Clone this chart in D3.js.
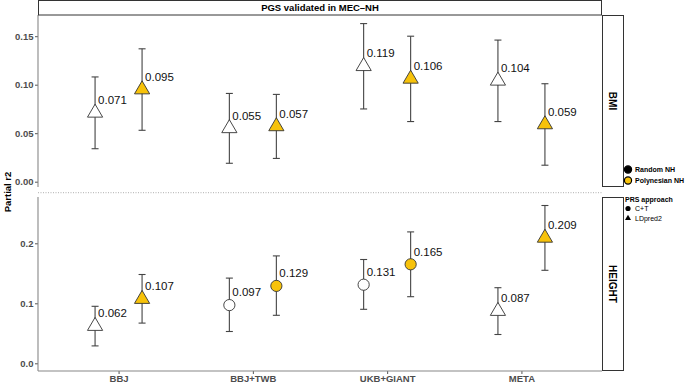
<!DOCTYPE html>
<html>
<head>
<meta charset="utf-8">
<script src="https://cdn.jsdelivr.net/npm/d3@7"></script>
<style>
  body { margin: 0; background: #fff; }
  text { font-family: "Liberation Sans", Arial, Helvetica, sans-serif; }
</style>
</head>
<body>
<div id="chart"></div>
<script>
// data
var cohorts = ["BBJ", "BBJ+TWB", "UKB+GIANT", "META"];
var groups = ["Random NH", "Polynesian NH"];
var methods = ["C+T", "LDpred2"];

var bmiMethod = ["LDpred2", "LDpred2", "LDpred2", "LDpred2"];
var bmiRandom = [0.071, 0.055, 0.119, 0.104];
var bmiRandomLo = [0.034, 0.019, 0.075, 0.062];
var bmiRandomHi = [0.108, 0.091, 0.163, 0.146];
var bmiPoly = [0.095, 0.057, 0.106, 0.059];
var bmiPolyLo = [0.053, 0.024, 0.062, 0.017];
var bmiPolyHi = [0.137, 0.090, 0.150, 0.101];

var heightMethod = ["LDpred2", "C+T", "C+T", "LDpred2"];
var heightRandom = [0.062, 0.097, 0.131, 0.087];
var heightRandomLo = [0.029, 0.053, 0.090, 0.048];
var heightRandomHi = [0.095, 0.142, 0.173, 0.126];
var heightPoly = [0.107, 0.129, 0.165, 0.209];
var heightPolyLo = [0.067, 0.080, 0.111, 0.155];
var heightPolyHi = [0.148, 0.179, 0.219, 0.263];

var bmiTicks = [0, 0.05, 0.10, 0.15];
var heightTicks = [0, 0.1, 0.2];

var W = 685, H = 382;
var left = 38, right = 602;
var colors = { "Random NH": "#ffffff", "Polynesian NH": "#f7c20a" };

var svg = d3.select("#chart").append("svg")
    .attr("width", W).attr("height", H);

var x = d3.scalePoint().domain(cohorts).range([left, right]).padding(0.6);
var dodge = d3.scalePoint().domain(groups).range([-23.5, 23.5]);

function rows(method, r, rlo, rhi, p, plo, phi) {
    var out = [];
    cohorts.forEach(function (c, i) {
        out.push({ cohort: c, group: groups[0], method: method[i], v: r[i], lo: rlo[i], hi: rhi[i] });
        out.push({ cohort: c, group: groups[1], method: method[i], v: p[i], lo: plo[i], hi: phi[i] });
    });
    return out;
}

var panels = [
    { name: "BMI", top: 15, bottom: 187, domain: [0, 0.15], range: [181.7, 36.2], ticks: bmiTicks, fmt: ".2f",
      data: rows(bmiMethod, bmiRandom, bmiRandomLo, bmiRandomHi, bmiPoly, bmiPolyLo, bmiPolyHi) },
    { name: "HEIGHT", top: 197, bottom: 371, domain: [0, 0.2], range: [363.3, 243.3], ticks: heightTicks, fmt: ".1f",
      data: rows(heightMethod, heightRandom, heightRandomLo, heightRandomHi, heightPoly, heightPolyLo, heightPolyHi) }
];

var tri = "M0,-8.7L7.6,4.3L-7.6,4.3Z";

panels.forEach(function (p) {
    var y = d3.scaleLinear().domain(p.domain).range(p.range);

    // y axis
    var ax = svg.append("g")
        .attr("transform", "translate(" + left + ",0)")
        .call(d3.axisLeft(y).tickValues(p.ticks).tickFormat(d3.format(p.fmt)).tickSize(3).tickPadding(1.5));
    ax.select(".domain").remove();
    ax.selectAll(".tick line").attr("stroke", "#555");
    ax.selectAll(".tick text")
        .attr("fill", "#4d4d4d")
        .style("font-size", "9.5px")
        .style("font-weight", "bold");
    svg.append("line")
        .attr("x1", left).attr("x2", left)
        .attr("y1", p.top).attr("y2", p.bottom)
        .attr("stroke", "#888").attr("stroke-width", 1.1);

    // right strip
    svg.append("rect")
        .attr("x", right + 0.5).attr("y", p.top + 0.5)
        .attr("width", 21).attr("height", p.bottom - p.top - 1)
        .attr("fill", "#fff").attr("stroke", "#333").attr("stroke-width", 1);
    svg.append("text")
        .attr("transform", "translate(" + (right + 7) + "," + ((p.top + p.bottom) / 2) + ") rotate(90)")
        .attr("text-anchor", "middle")
        .style("font-size", "10px").style("font-weight", "bold")
        .text(p.name);

    var g = svg.append("g");
    var pts = g.selectAll("g.pt").data(p.data).enter().append("g")
        .attr("transform", function (d) { return "translate(" + (x(d.cohort) + dodge(d.group)) + ",0)"; });

    // error bars
    pts.append("line")
        .attr("y1", function (d) { return y(d.lo); })
        .attr("y2", function (d) { return y(d.hi); })
        .attr("stroke", "#444").attr("stroke-width", 1.1);
    pts.append("line")
        .attr("x1", -3.5).attr("x2", 3.5)
        .attr("y1", function (d) { return y(d.lo); }).attr("y2", function (d) { return y(d.lo); })
        .attr("stroke", "#444").attr("stroke-width", 1.1);
    pts.append("line")
        .attr("x1", -3.5).attr("x2", 3.5)
        .attr("y1", function (d) { return y(d.hi); }).attr("y2", function (d) { return y(d.hi); })
        .attr("stroke", "#444").attr("stroke-width", 1.1);

    // markers
    pts.each(function (d) {
        var s = d3.select(this);
        if (d.method === "C+T") {
            s.append("circle").attr("cy", y(d.v)).attr("r", 5.6)
                .attr("fill", colors[d.group]).attr("stroke", "#333").attr("stroke-width", 0.9);
        } else {
            s.append("path").attr("d", tri)
                .attr("transform", "translate(0," + y(d.v) + ")")
                .attr("fill", colors[d.group]).attr("stroke", "#333").attr("stroke-width", 0.9);
        }
    });

    // value labels
    pts.append("text")
        .attr("x", 3)
        .attr("y", function (d) { return y(d.v) - 8.8; })
        .style("font-size", "11.5px")
        .attr("fill", "#111")
        .text(function (d) { return d3.format(".3f")(d.v); });
});

// dotted separator
svg.append("line")
    .attr("x1", left).attr("x2", right)
    .attr("y1", 192.7).attr("y2", 192.7)
    .attr("stroke", "#999").attr("stroke-width", 0.8)
    .attr("stroke-dasharray", "1,1.5");

// x axis
var xa = svg.append("g")
    .attr("transform", "translate(0,371)")
    .call(d3.axisBottom(x).tickSize(3).tickPadding(1));
xa.select(".domain").remove();
xa.selectAll(".tick line").attr("stroke", "#555");
xa.selectAll(".tick text")
    .attr("fill", "#4d4d4d")
    .style("font-size", "9.5px")
    .style("font-weight", "bold");
svg.append("line")
    .attr("x1", left).attr("x2", right)
    .attr("y1", 371).attr("y2", 371)
    .attr("stroke", "#888").attr("stroke-width", 1.1);

// top strip
svg.append("rect")
    .attr("x", left + 0.5).attr("y", 0.5)
    .attr("width", right - left - 1).attr("height", 14.5)
    .attr("fill", "#fff").attr("stroke", "#333").attr("stroke-width", 1);
svg.append("text")
    .attr("x", (left + right) / 2).attr("y", 11)
    .attr("text-anchor", "middle")
    .style("font-size", "9.5px").style("font-weight", "bold")
    .text("PGS validated in MEC\u2013NH");

// y axis title
svg.append("text")
    .attr("transform", "translate(11,192) rotate(-90)")
    .attr("text-anchor", "middle")
    .style("font-size", "9.5px").style("font-weight", "bold")
    .text("Partial r2");

// legend
var lg = svg.append("g").attr("transform", "translate(628,0)");
lg.selectAll("circle.grp").data(groups).enter().append("circle")
    .attr("cx", 0).attr("cy", function (d, i) { return 169.5 + i * 11; })
    .attr("r", 3.6)
    .attr("fill", function (d, i) { return i === 0 ? "#000" : colors[d]; })
    .attr("stroke", "#000").attr("stroke-width", 1.2);
lg.selectAll("text.grp").data(groups).enter().append("text")
    .attr("x", 7).attr("y", function (d, i) { return 172 + i * 11; })
    .style("font-size", "7px").style("font-weight", "bold")
    .text(function (d) { return d; });

lg.append("text")
    .attr("x", -3).attr("y", 201.5)
    .style("font-size", "7px").style("font-weight", "bold")
    .text("PRS approach");
methods.forEach(function (m, i) {
    var cy = 208.5 + i * 9.5;
    if (m === "C+T") {
        lg.append("circle").attr("cx", 0).attr("cy", cy).attr("r", 2.6).attr("fill", "#000");
    } else {
        lg.append("path").attr("d", "M0,-3.2L3,2L-3,2Z").attr("transform", "translate(0," + cy + ")").attr("fill", "#000");
    }
    lg.append("text")
        .attr("x", 7).attr("y", cy + 2.5)
        .style("font-size", "7px")
        .text(m);
});
</script>
</body>
</html>
